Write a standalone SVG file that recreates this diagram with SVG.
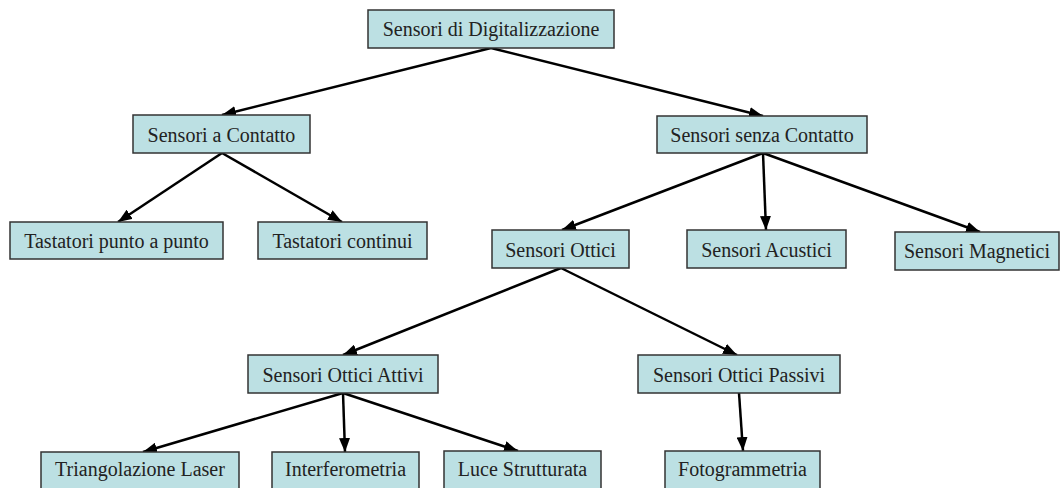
<svg xmlns="http://www.w3.org/2000/svg" width="1061" height="488" viewBox="0 0 1061 488">
<style>
.box{fill:#bce0e3;stroke:#333;stroke-width:1.5}
.lbl{font-family:"Liberation Serif","Times New Roman",serif;font-size:20px;fill:#222;text-anchor:middle}
.edge{stroke:#000;stroke-width:2.5;fill:none;marker-end:url(#ah)}
</style>
<defs>
<marker id="ah" markerUnits="userSpaceOnUse" markerWidth="14" markerHeight="11" refX="14" refY="5.5" orient="auto">
<path d="M0,0 L14,5.5 L0,11 z" fill="#000"/>
</marker>
</defs>
<rect width="1061" height="488" fill="#fff"/>
<g id="connectors">
<line class="edge" x1="491" y1="48" x2="222" y2="115"/>
<line class="edge" x1="491" y1="48" x2="763" y2="116"/>
<line class="edge" x1="222" y1="153" x2="118" y2="222"/>
<line class="edge" x1="222" y1="153" x2="342" y2="222"/>
<line class="edge" x1="763" y1="153" x2="562" y2="230"/>
<line class="edge" x1="763" y1="153" x2="766" y2="230"/>
<line class="edge" x1="763" y1="153" x2="980" y2="232"/>
<line class="edge" x1="561" y1="268" x2="343" y2="355"/>
<line class="edge" x1="561" y1="268" x2="737" y2="355"/>
<line class="edge" x1="343" y1="393" x2="143" y2="452"/>
<line class="edge" x1="343" y1="393" x2="345" y2="452"/>
<line class="edge" x1="343" y1="393" x2="518" y2="451"/>
<line class="edge" x1="739" y1="393" x2="743" y2="451"/>
</g>
<g id="n-root"><rect class="box" x="368" y="10" width="246" height="38"/><text class="lbl" x="491" y="36">Sensori di Digitalizzazione</text></g>
<g id="n-contatto"><rect class="box" x="133" y="115" width="177" height="38"/><text class="lbl" x="221.5" y="141.5">Sensori a Contatto</text></g>
<g id="n-senza"><rect class="box" x="657" y="116" width="210" height="37"/><text class="lbl" x="762" y="142">Sensori senza Contatto</text></g>
<g id="n-punto"><rect class="box" x="10" y="222" width="213" height="37"/><text class="lbl" x="116.5" y="248">Tastatori punto a punto</text></g>
<g id="n-continui"><rect class="box" x="258" y="222" width="169" height="37"/><text class="lbl" x="342.5" y="248">Tastatori continui</text></g>
<g id="n-ottici"><rect class="box" x="492" y="230" width="137" height="38"/><text class="lbl" x="560.5" y="257">Sensori Ottici</text></g>
<g id="n-acustici"><rect class="box" x="687" y="230" width="159" height="38"/><text class="lbl" x="766.5" y="257">Sensori Acustici</text></g>
<g id="n-magnetici"><rect class="box" x="895" y="232" width="164" height="38"/><text class="lbl" x="977" y="258">Sensori Magnetici</text></g>
<g id="n-attivi"><rect class="box" x="248" y="355" width="190" height="38"/><text class="lbl" x="343" y="381.5">Sensori Ottici Attivi</text></g>
<g id="n-passivi"><rect class="box" x="638" y="355" width="202" height="38"/><text class="lbl" x="739" y="381.5">Sensori Ottici Passivi</text></g>
<g id="n-triang"><rect class="box" x="41" y="452" width="198" height="40"/><text class="lbl" x="140" y="476">Triangolazione Laser</text></g>
<g id="n-interf"><rect class="box" x="272" y="452" width="147" height="40"/><text class="lbl" x="345.5" y="476">Interferometria</text></g>
<g id="n-luce"><rect class="box" x="444" y="451" width="157" height="40"/><text class="lbl" x="522.5" y="476">Luce Strutturata</text></g>
<g id="n-foto"><rect class="box" x="665" y="451" width="155" height="40"/><text class="lbl" x="742.5" y="476">Fotogrammetria</text></g>
</svg>
